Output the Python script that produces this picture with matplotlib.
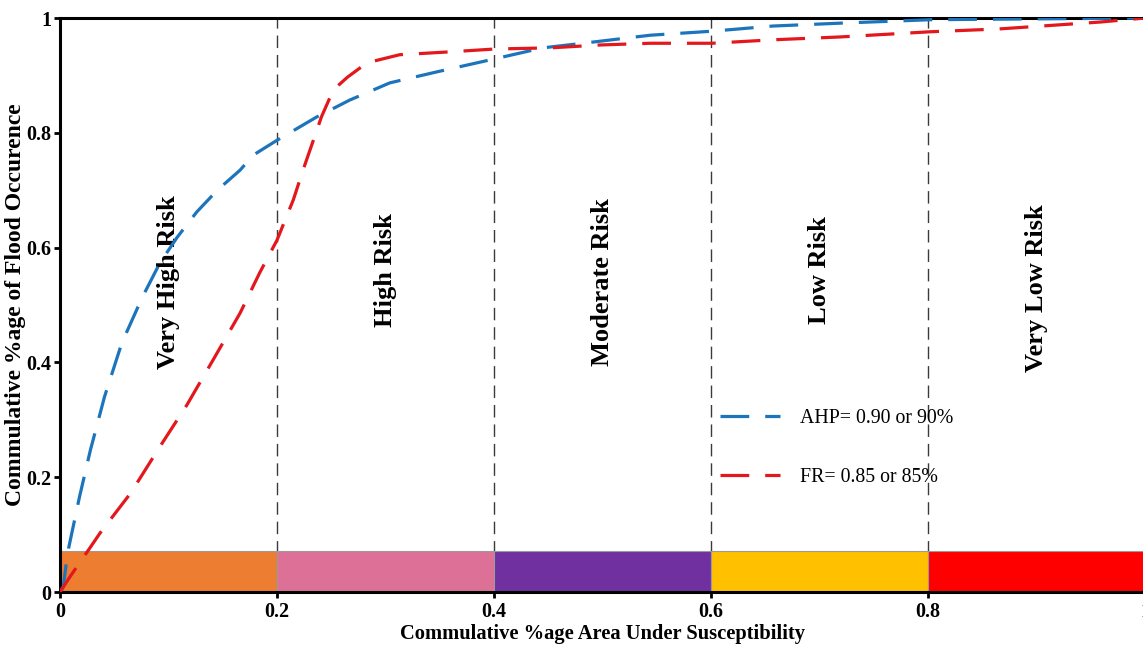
import matplotlib.pyplot as plt

# courbes cumulatives
ahp_x = [0.0, 0.003, 0.007, 0.018, 0.028, 0.041, 0.057, 0.076, 0.092, 0.108, 0.126, 0.145,
         0.166, 0.178, 0.2, 0.237, 0.267, 0.304, 0.347, 0.401, 0.445, 0.482, 0.544, 0.601,
         0.657, 0.719, 0.802, 0.866, 1.0]
ahp_y = [0.0, 0.009, 0.068, 0.166, 0.247, 0.340, 0.434, 0.514, 0.573, 0.618, 0.662, 0.700,
         0.735, 0.761, 0.787, 0.828, 0.857, 0.887, 0.906, 0.929, 0.948, 0.956, 0.970, 0.977,
         0.986, 0.991, 0.997, 0.998, 1.0]

fr_x = [0.0, 0.009, 0.028, 0.037, 0.065, 0.092, 0.117, 0.141, 0.166, 0.184, 0.2, 0.215,
        0.224, 0.241, 0.252, 0.265, 0.283, 0.313, 0.359, 0.401, 0.452, 0.498, 0.544, 0.601,
        0.657, 0.719, 0.802, 0.866, 0.959, 1.0]
fr_y = [0.0, 0.026, 0.078, 0.103, 0.172, 0.253, 0.326, 0.404, 0.486, 0.556, 0.613, 0.683,
        0.735, 0.828, 0.875, 0.897, 0.922, 0.936, 0.941, 0.946, 0.948, 0.953, 0.956, 0.956,
        0.962, 0.967, 0.976, 0.981, 0.993, 1.0]

# zones de risque
zone_start = [0.0, 0.2, 0.4, 0.6, 0.8]
zone_names = ['Very High Risk', 'High Risk', 'Moderate Risk', 'Low Risk', 'Very Low Risk']
zone_colors = ['#ED7D31', '#DC7096', '#7030A0', '#FFC000', '#FF0000']
zone_text_y = [0.54, 0.56, 0.54, 0.56, 0.53]
bar_height = 0.071

plt.rcParams['font.family'] = ['Liberation Serif', 'DejaVu Serif']

fig = plt.figure(figsize=(11.43, 6.5), dpi=100)
ax = fig.add_axes([60 / 1143, 1 - 592 / 650, 1085 / 1143, 574 / 650])

ax.bar(zone_start, bar_height, width=0.2, align='edge', color=zone_colors,
       edgecolor='#9a9a9a', linewidth=0.8, zorder=2)

for xs in zone_start[1:]:
    ax.axvline(xs, color='#3a3a3a', lw=1.0, ls=(0, (9, 5)), zorder=1)

for xs, name, ty in zip(zone_start, zone_names, zone_text_y):
    ax.text(xs + 0.1, ty, name, rotation=90, ha='center', va='center',
            fontsize=19, fontweight='bold')

ax.plot(ahp_x, ahp_y, color='#1C75BC', lw=2.3, ls=(0, (9, 5)), zorder=3,
        label='AHP= 0.90 or 90%')
ax.plot(fr_x, fr_y, color='#E3171C', lw=2.3, ls=(0, (9, 5)), zorder=3,
        label='FR= 0.85 or 85%')

ax.legend(frameon=False, loc='upper left', bbox_to_anchor=(0.592, 0.35),
          fontsize=14.3, labelspacing=2.0, handlelength=3.0, handletextpad=1.0)

ax.set_xlim(0, 1)
ax.set_ylim(0, 1)
ax.set_xticks([0, 0.2, 0.4, 0.6, 0.8, 1])
ax.set_xticklabels(['0', '0.2', '0.4', '0.6', '0.8', '1'])
ax.set_yticks([0, 0.2, 0.4, 0.6, 0.8, 1])
ax.set_yticklabels(['0', '0.2', '0.4', '0.6', '0.8', '1'])
ax.tick_params(labelsize=14.5, width=2, length=4, direction='out')
ax.tick_params(axis='y', pad=2)
for lab in ax.get_xticklabels() + ax.get_yticklabels():
    lab.set_fontweight('bold')

for s in ax.spines.values():
    s.set_linewidth(2.2)

ax.set_xlabel('Commulative %age Area Under Susceptibility', fontsize=14.8,
              fontweight='bold')
ax.xaxis.set_label_coords(0.5, -0.056)
ax.set_ylabel('Commulative %age of Flood Occurence', fontsize=17,
              fontweight='bold')
ax.yaxis.set_label_coords(-0.031, 0.5)

fig.savefig('out.png', dpi=100)
